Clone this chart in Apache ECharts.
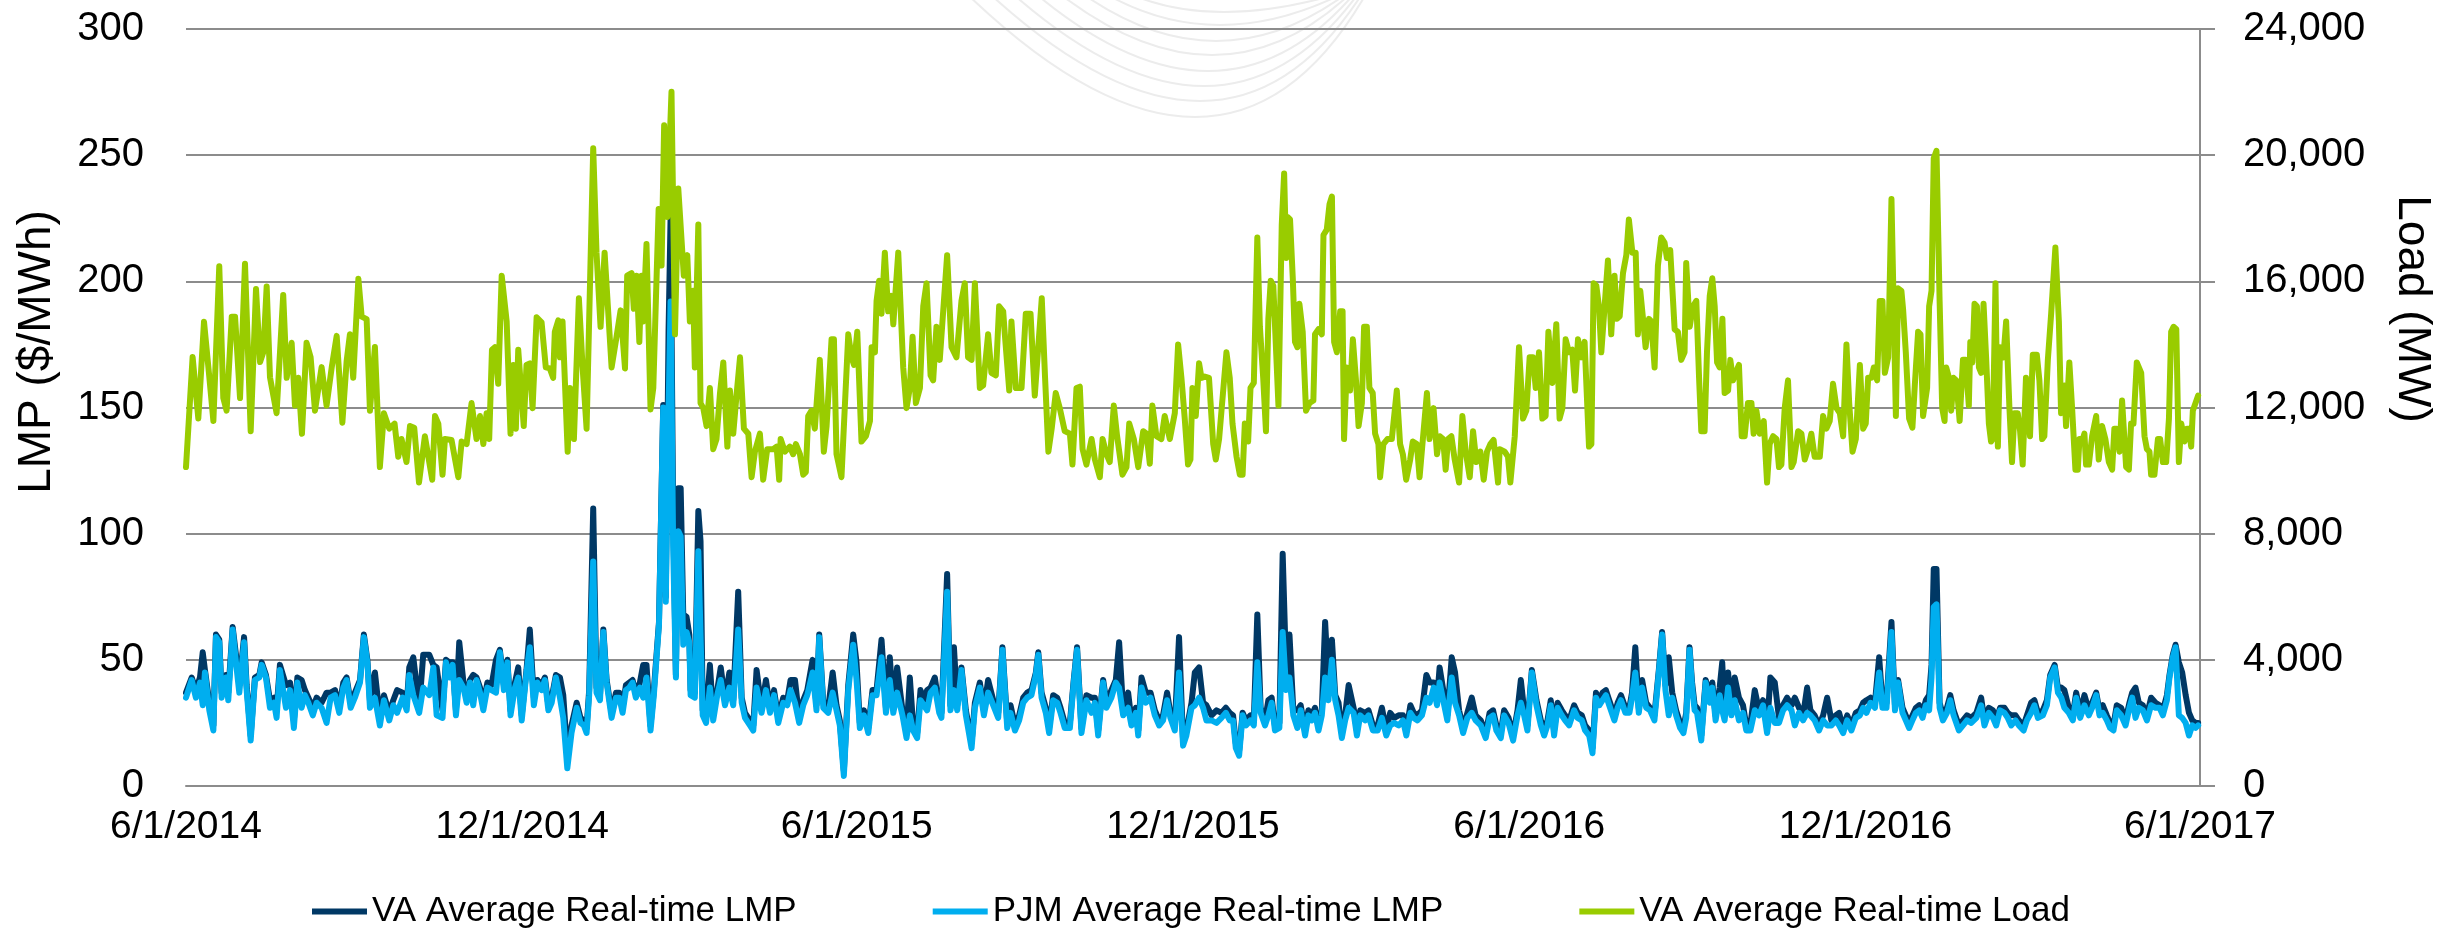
<!DOCTYPE html>
<html>
<head>
<meta charset="utf-8">
<title>VA vs PJM real-time LMP and load</title>
<script src="https://cdn.jsdelivr.net/npm/echarts@6/dist/echarts.min.js"></script>
<style>
  html, body { margin: 0; padding: 0; background: #fff; }
  #chart { width: 2463px; height: 943px; }
</style>
</head>
<body>
<div id="chart"></div>
<script>
// x axis: days since 6/1/2014
var tickDays = [0, 183, 365, 548, 731, 914, 1096];
var tickLabels = ['6/1/2014', '12/1/2014', '6/1/2015', '12/1/2015', '6/1/2016', '12/1/2016', '6/1/2017'];

// LMP series ($/MWh)
var lmpDays = [
  0, 3.1, 5.4, 7.6, 9.1, 10.3, 12.7, 14.9, 16.3, 18.1,
  19.4, 21.8, 23.0, 25.4, 27.2, 29.0, 31.6, 33.0, 35.2, 37.5,
  39.9, 41.2, 43.5, 45.7, 47.9, 49.3, 51.1, 54.4, 56.6, 58.7,
  60.6, 62.9, 64.7, 66.6, 69.0, 71.1, 73.8, 76.5, 78.7, 81.1,
  83.4, 85.6, 87.4, 89.6, 91.9, 94.7, 96.8, 98.7, 100.1, 102.8,
  105.5, 107.7, 110.6, 112.8, 114.9, 117.9, 120.1, 121.5, 123.7, 126.9,
  129.1, 132.4, 134.6, 136.4, 139.6, 141.5, 143.3, 145.1, 146.9, 148.7,
  151.0, 152.7, 154.5, 156.3, 158.1, 160.0, 161.8, 164.0, 166.3, 168.7,
  170.8, 173.0, 174.9, 176.6, 179.0, 180.8, 182.7, 185.3, 187.1, 189.3,
  191.2, 193.5, 195.3, 197.2, 199.0, 201.3, 203.5, 205.3, 207.5, 209.8,
  212.6, 214.7, 216.5, 218.0, 219.4, 221.6, 223.4, 225.3, 227.1, 228.9,
  231.6, 234.0, 235.8, 237.6, 239.4, 241.2, 243.0, 244.8, 247.0, 248.8,
  250.6, 252.8, 254.6, 257.4, 259.7, 261.1, 262.6, 263.7, 265.1, 266.6,
  267.9, 269.2, 270.6, 272.4, 273.9, 274.6, 276.9, 278.8, 280.0, 281.2,
  283.0, 285.1, 286.9, 289.1, 291.0, 293.3, 295.7, 297.8, 300.5, 302.4,
  304.2, 306.9, 308.7, 310.5, 313.2, 315.6, 317.8, 320.0, 322.3, 325.0,
  327.2, 329.0, 331.4, 333.7, 335.9, 338.1, 341.0, 343.1, 344.6, 346.8,
  349.5, 351.9, 354.0, 355.8, 358.0, 360.4, 363.1, 364.9, 366.7, 368.9,
  371.3, 373.6, 375.8, 378.5, 380.9, 383.0, 384.9, 387.0, 389.9, 392.1,
  393.9, 395.7, 397.9, 399.7, 401.5, 403.3, 405.2, 407.5, 409.9, 411.1,
  414.2, 416.0, 417.9, 419.7, 422.0, 424.4, 427.5, 429.3, 432.0, 434.2,
  436.5, 439.3, 442.0, 444.3, 446.9, 448.7, 451.1, 453.4, 455.6, 457.8,
  460.1, 462.5, 463.8, 465.6, 467.9, 469.7, 471.9, 474.1, 475.9, 478.2,
  481.0, 483.1, 484.9, 487.3, 490.0, 492.8, 494.6, 496.4, 499.1, 500.9,
  503.6, 506.0, 507.8, 510.0, 512.7, 514.5, 516.9, 518.2, 520.0, 522.3,
  524.9, 527.2, 529.6, 531.7, 533.9, 535.7, 538.1, 540.4, 542.6, 544.4,
  547.2, 549.0, 551.3, 553.5, 555.3, 558.1, 560.8, 563.5, 565.9, 568.0,
  569.8, 571.3, 573.1, 575.0, 576.8, 579.3, 581.1, 583.0, 584.8, 587.2,
  589.0, 590.8, 592.6, 595.0, 596.8, 598.7, 600.5, 602.6, 604.8, 606.6,
  609.0, 610.8, 612.6, 614.4, 616.3, 618.1, 619.9, 621.7, 623.6, 625.4,
  627.2, 629.0, 630.8, 632.7, 635.4, 637.2, 639.0, 641.7, 643.5, 645.9,
  648.5, 650.8, 653.2, 655.3, 657.5, 659.9, 662.3, 664.1, 666.3, 668.1,
  670.2, 672.6, 675.0, 676.8, 679.0, 680.8, 682.2, 686.4, 688.8, 690.6,
  692.8, 695.0, 697.3, 699.7, 701.8, 704.6, 707.3, 709.4, 711.3, 713.1,
  715.5, 717.3, 719.7, 722.2, 724.6, 726.4, 728.2, 730.0, 732.4, 734.9,
  737.3, 739.1, 740.9, 742.7, 744.5, 746.4, 748.7, 750.5, 752.7, 755.4,
  757.3, 759.6, 761.4, 763.6, 765.4, 767.3, 769.1, 770.9, 772.7, 774.5,
  777.3, 779.1, 780.9, 783.3, 785.5, 786.9, 788.7, 790.6, 792.4, 794.6,
  796.7, 799.1, 801.5, 803.3, 805.1, 806.9, 808.8, 810.9, 813.1, 814.9,
  816.4, 818.2, 819.6, 821.0, 822.3, 824.6, 827.0, 829.2, 830.6, 832.4,
  834.6, 836.0, 837.3, 839.2, 841.0, 842.8, 845.1, 847.3, 849.1, 851.3,
  853.7, 856.0, 858.2, 860.4, 862.2, 864.6, 866.9, 869.1, 871.3, 873.7,
  875.5, 877.8, 880.0, 882.2, 884.0, 886.3, 888.7, 890.9, 893.1, 895.4,
  897.8, 899.6, 901.8, 904.0, 906.3, 908.7, 910.9, 912.7, 914.5, 916.7,
  919.1, 921.4, 923.2, 925.4, 928.1, 930.0, 931.7, 934.1, 935.9, 937.7,
  939.5, 941.4, 943.2, 945.0, 946.8, 948.6, 949.9, 951.1, 952.6, 954.3,
  956.1, 958.3, 960.1, 961.9, 964.8, 967.0, 969.2, 971.5, 974.3, 976.9,
  978.7, 981.1, 983.3, 985.1, 987.2, 989.6, 991.4, 993.3, 995.6, 997.4,
  1000.0, 1001.8, 1004.1, 1005.9, 1007.8, 1010.5, 1012.7, 1014.5, 1016.9, 1018.7,
  1020.5, 1022.2, 1024.6, 1026.8, 1028.6, 1030.8, 1033.1, 1035.5, 1037.3, 1039.5,
  1041.3, 1043.1, 1045.3, 1047.1, 1048.9, 1050.7, 1053.1, 1055.5, 1057.6, 1059.1,
  1060.9, 1062.7, 1064.9, 1067.1, 1069.4, 1071.8, 1074.0, 1075.8, 1078.0, 1079.4,
  1081.2, 1082.7, 1084.5, 1086.3, 1088.2, 1090.0, 1091.8, 1093.6, 1095
];
var vaLmp = [
  37, 43, 38, 43, 53, 46, 33, 24, 60, 58,
  37, 44, 37, 63, 52, 40, 59, 40, 20, 43,
  44, 49, 44, 34, 35, 30, 48, 40, 41, 26,
  43, 42, 38, 35, 31, 35, 33, 37, 37, 38,
  31, 41, 43, 33, 37, 42, 60, 50, 34, 45,
  27, 36, 29, 34, 38, 37, 32, 47, 51, 31,
  52, 52, 48, 47, 30, 50, 49, 49, 30, 57,
  41, 35, 42, 44, 43, 39, 32, 41, 40, 50,
  54, 40, 50, 30, 41, 47, 28, 46, 62, 35,
  42, 40, 43, 32, 35, 44, 43, 36, 12, 24,
  33, 27, 26, 23, 38, 110, 39, 36, 62, 42,
  29, 37, 37, 31, 40, 41, 42, 37, 41, 48,
  48, 24, 38, 65, 151, 75, 180, 225, 110, 44,
  118, 118, 68, 67, 60, 38, 37, 109, 97, 30,
  28, 48, 28, 38, 47, 34, 45, 34, 77, 35,
  29, 26, 24, 46, 31, 42, 31, 38, 27, 35,
  34, 42, 42, 27, 34, 38, 50, 32, 60, 33,
  31, 45, 32, 26, 6, 40, 60, 49, 25, 30,
  23, 38, 38, 58, 31, 51, 31, 47, 30, 21,
  43, 24, 21, 38, 34, 38, 39, 43, 31, 29,
  84, 32, 55, 32, 47, 30, 17, 33, 41, 30,
  42, 34, 29, 55, 25, 32, 24, 28, 35, 37,
  38, 45, 53, 37, 31, 23, 36, 35, 31, 25,
  25, 42, 55, 23, 36, 35, 35, 22, 42, 33,
  38, 42, 57, 30, 37, 26, 31, 22, 43, 37,
  37, 30, 26, 28, 37, 29, 24, 59, 18, 22,
  33, 45, 47, 33, 32, 28, 30, 29, 31, 29,
  28, 17, 14, 29, 26, 28, 26, 68, 31, 26,
  34, 35, 24, 25, 92, 45, 60, 30, 30, 32,
  22, 30, 28, 31, 24, 30, 65, 40, 58, 36,
  33, 21, 28, 40, 31, 22, 30, 29, 30, 24,
  24, 31, 22, 29, 27, 28, 28, 22, 32, 29,
  28, 30, 44, 41, 41, 34, 47, 28, 51, 45,
  30, 23, 29, 35, 28, 26, 21, 29, 30, 24,
  21, 30, 27, 20, 30, 42, 30, 24, 46, 34,
  26, 22, 26, 34, 22, 33, 30, 28, 26, 32,
  29, 28, 24, 22, 15, 37, 34, 37, 38, 34,
  28, 33, 36, 31, 31, 37, 55, 31, 42, 33,
  31, 28, 46, 61, 40, 51, 37, 30, 25, 23,
  29, 55, 41, 32, 31, 20, 42, 35, 41, 28,
  39, 49, 28, 45, 30, 43, 35, 32, 24, 24,
  38, 30, 34, 23, 43, 41, 27, 32, 35, 32,
  35, 31, 28, 39, 30, 28, 24, 28, 35, 26,
  28, 29, 23, 28, 24, 29, 30, 33, 34, 35,
  33, 51, 33, 33, 65, 32, 42, 31, 28, 25,
  28, 31, 32, 29, 34, 36, 48, 86, 86, 33,
  28, 31, 36, 30, 24, 26, 28, 27, 29, 35,
  26, 31, 30, 26, 31, 31, 29, 28, 28, 26,
  24, 28, 33, 34, 29, 30, 34, 44, 48, 39,
  39, 38, 31, 28, 37, 29, 36, 30, 33, 37,
  30, 32, 28, 25, 24, 32, 31, 26, 33, 37,
  39, 33, 32, 28, 35, 33, 32, 30, 36, 44,
  52, 56, 49, 45, 36, 29, 26, 25, 25
];
var pjmLmp = [
  35, 42, 35, 41, 32, 45, 30, 22, 59, 57,
  35, 43, 34, 62, 49, 37, 57, 38, 18, 42,
  43, 48, 43, 31, 33, 27, 46, 31, 38, 23,
  41, 31, 36, 33, 28, 33, 31, 25, 35, 36,
  29, 39, 42, 31, 35, 41, 59, 49, 31, 35,
  24, 34, 26, 32, 29, 35, 30, 44, 36, 29,
  39, 36, 47, 28, 27, 49, 43, 48, 28, 42,
  39, 33, 41, 32, 42, 37, 30, 39, 38, 37,
  53, 38, 49, 28, 39, 43, 26, 45, 55, 32,
  41, 38, 42, 30, 33, 43, 35, 27, 7, 21,
  31, 25, 24, 21, 36, 89, 37, 34, 61, 41,
  27, 35, 35, 29, 38, 39, 41, 35, 39, 35,
  43, 22, 36, 64, 150, 73, 148, 192, 95, 43,
  101, 99, 56, 61, 57, 36, 35, 93, 60, 28,
  25, 39, 26, 36, 42, 32, 39, 32, 62, 33,
  27, 24, 22, 39, 29, 38, 29, 36, 25, 33,
  32, 38, 33, 25, 32, 36, 45, 30, 59, 31,
  29, 37, 30, 24, 4, 38, 56, 42, 23, 28,
  21, 36, 36, 51, 29, 42, 29, 37, 28, 19,
  28, 22, 19, 34, 32, 30, 37, 39, 29, 27,
  77, 30, 38, 30, 46, 28, 15, 31, 39, 28,
  37, 32, 27, 54, 23, 29, 22, 26, 33, 35,
  36, 44, 52, 35, 29, 21, 34, 33, 29, 23,
  23, 41, 54, 21, 34, 29, 33, 20, 41, 31,
  35, 41, 39, 28, 31, 24, 29, 20, 39, 33,
  35, 28, 24, 26, 34, 27, 22, 45, 16, 20,
  31, 32, 35, 31, 26, 26, 25, 27, 29, 26,
  26, 15, 12, 28, 24, 26, 24, 49, 29, 24,
  28, 33, 22, 23, 61, 38, 43, 28, 23, 30,
  20, 28, 26, 29, 22, 28, 43, 34, 50, 34,
  28, 19, 26, 31, 29, 20, 28, 26, 28, 22,
  22, 27, 20, 24, 25, 24, 26, 20, 29, 27,
  26, 28, 35, 33, 39, 32, 41, 26, 43, 33,
  28, 21, 27, 29, 26, 24, 19, 27, 28, 22,
  19, 28, 25, 18, 28, 33, 28, 22, 45, 32,
  24, 20, 24, 32, 20, 31, 28, 26, 24, 30,
  27, 26, 22, 20, 13, 35, 32, 34, 36, 32,
  26, 31, 34, 29, 29, 35, 45, 29, 39, 31,
  30, 26, 45, 60, 38, 28, 35, 28, 23, 21,
  27, 54, 39, 30, 29, 18, 41, 33, 39, 26,
  36, 30, 26, 39, 28, 34, 26, 29, 22, 22,
  30, 28, 32, 21, 31, 25, 25, 30, 32, 30,
  24, 29, 26, 29, 28, 26, 22, 26, 24, 24,
  26, 24, 21, 26, 22, 27, 28, 31, 29, 33,
  31, 45, 31, 31, 61, 30, 41, 29, 26, 23,
  26, 29, 30, 27, 32, 30, 43, 71, 72, 31,
  26, 29, 34, 28, 22, 24, 26, 25, 27, 32,
  24, 29, 27, 24, 30, 29, 27, 24, 26, 24,
  22, 26, 29, 32, 27, 28, 32, 43, 47, 37,
  35, 31, 29, 26, 35, 27, 32, 28, 31, 36,
  28, 29, 26, 23, 22, 30, 28, 24, 31, 35,
  27, 31, 30, 26, 32, 31, 31, 28, 34, 43,
  51, 55, 28, 27, 25, 20, 24, 23, 24
];

// VA load (MW)
var loadDays = [
  0, 3.6, 6.7, 9.8, 12.7, 14.9, 18.1, 20.3, 22.1, 24.9,
  26.7, 29.4, 32.1, 35.2, 38.1, 40.3, 42.1, 43.9, 45.7, 49.3,
  52.9, 54.8, 57.5, 59.3, 61.1, 63.1, 65.6, 67.8, 70.2, 73.8,
  76.5, 79.3, 82.0, 85.1, 87.4, 89.2, 91.0, 93.8, 95.6, 98.3,
  100.1, 102.8, 105.5, 107.7, 110.6, 113.5, 115.5, 117.3, 120.0, 121.9,
  124.2, 126.8, 130.0, 134.0, 135.5, 137.3, 139.6, 140.9, 144.5, 148.2,
  150.0, 152.7, 155.4, 158.1, 160.0, 161.8, 163.6, 165.0, 166.5, 168.1,
  169.9, 171.8, 174.5, 176.6, 178.1, 179.5, 180.8, 183.8, 185.3, 187.1,
  188.6, 190.8, 193.5, 195.8, 198.0, 199.8, 200.7, 202.6, 203.5, 204.9,
  207.7, 208.9, 211.1, 213.8, 215.8, 218.0, 221.6, 223.4, 225.6, 227.8,
  231.6, 234.3, 236.5, 238.9, 240.1, 242.5, 243.7, 245.2, 246.7, 247.9,
  248.8, 250.6, 252.8, 254.3, 255.7, 257.2, 258.8, 260.2, 261.9, 263.0,
  264.2, 266.1, 267.9, 270.9, 272.8, 274.2, 276.0, 276.9, 278.8, 280.0,
  281.5, 283.3, 285.1, 286.9, 288.7, 290.6, 292.4, 294.6, 296.0, 297.8,
  299.7, 301.5, 303.6, 306.0, 307.8, 309.6, 312.3, 314.1, 316.3, 319.5,
  321.4, 322.8, 323.6, 325.9, 328.6, 330.4, 331.9, 334.1, 335.9, 337.3,
  338.6, 340.4, 342.2, 344.9, 347.1, 348.6, 351.3, 352.6, 354.0, 356.7,
  360.4, 362.2, 363.5, 365.3, 367.6, 370.0, 372.2, 373.1, 374.9, 375.8,
  377.2, 378.5, 380.3, 382.1, 383.9, 384.9, 387.6, 390.3, 392.1, 393.9,
  395.4, 397.2, 399.4, 401.2, 403.0, 405.2, 406.6, 408.4, 410.2, 414.2,
  416.6, 419.3, 422.0, 423.8, 425.6, 427.5, 429.3, 432.0, 433.8, 436.5,
  438.3, 440.7, 442.5, 444.7, 445.6, 448.0, 449.2, 451.6, 454.7, 457.0,
  459.6, 461.9, 465.7, 467.5, 469.3, 471.1, 473.3, 475.5, 478.2, 481.0,
  482.4, 484.6, 486.4, 487.9, 490.0, 492.8, 494.6, 497.3, 498.8, 500.9,
  502.7, 504.9, 506.7, 509.6, 511.8, 513.3, 515.8, 518.2, 520.9, 522.7,
  524.5, 525.9, 528.1, 530.8, 532.6, 535.4, 538.1, 539.9, 541.7, 543.5,
  545.3, 546.6, 547.7, 549.5, 551.3, 552.6, 554.4, 556.7, 559.0, 560.4,
  562.2, 563.5, 566.2, 568.0, 569.5, 571.7, 573.5, 575.0, 576.2, 578.0,
  579.3, 581.1, 583.0, 584.4, 586.2, 587.7, 589.0, 590.3, 591.7, 594.5,
  596.3, 597.6, 598.7, 599.4, 600.8, 602.3, 603.5, 604.8, 605.9, 607.7,
  609.5, 611.4, 613.5, 614.4, 616.3, 618.1, 619.0, 620.8, 622.3, 623.6,
  624.8, 626.3, 628.1, 629.4, 630.2, 631.7, 633.5, 635.0, 636.8, 638.1,
  639.9, 641.1, 642.6, 644.0, 645.8, 647.1, 648.9, 649.8, 651.6, 653.8,
  656.2, 658.9, 660.7, 662.2, 664.0, 666.2, 667.6, 669.8, 671.3, 673.1,
  675.3, 676.7, 678.9, 680.8, 682.3, 684.1, 685.5, 686.8, 688.6, 690.4,
  692.8, 694.6, 696.4, 698.6, 700.4, 702.2, 704.4, 706.2, 708.0, 709.8,
  711.6, 714.0, 714.9, 717.6, 719.4, 720.7, 723.1, 725.4, 727.6, 729.4,
  731.2, 733.0, 734.5, 736.3, 738.1, 739.9, 741.4, 743.6, 745.7, 747.5,
  749.0, 750.8, 752.6, 754.4, 755.9, 757.5, 759.3, 761.1, 763.5, 764.8,
  766.0, 767.5, 768.9, 770.2, 772.0, 773.8, 775.6, 777.4, 778.7, 780.2,
  782.0, 783.8, 785.2, 787.1, 788.9, 790.1, 791.4, 792.9, 794.3, 796.1,
  797.4, 799.2, 801.0, 802.8, 804.6, 805.9, 807.7, 810.1, 811.9, 813.7,
  815.5, 816.4, 818.3, 820.1, 821.9, 823.4, 824.6, 826.4, 827.7, 829.2,
  830.6, 831.9, 833.2, 834.6, 836.1, 837.3, 839.2, 840.4, 841.9, 843.3,
  845.1, 846.6, 848.2, 850.0, 851.9, 853.1, 854.6, 856.4, 858.6, 860.4,
  861.8, 863.7, 865.5, 866.9, 868.2, 870.0, 871.8, 873.7, 874.9, 877.3,
  879.1, 880.9, 882.7, 884.5, 886.3, 889.1, 890.9, 892.7, 894.5, 896.3,
  898.2, 900.0, 901.8, 903.6, 905.1, 906.9, 908.7, 910.9, 912.7, 914.1,
  915.4, 917.2, 918.5, 920.3, 921.7, 923.2, 924.5, 926.3, 928.1, 930.5,
  931.7, 933.5, 934.4, 935.9, 937.7, 939.5, 940.8, 942.6, 943.9, 945.3,
  947.5, 948.6, 949.9, 951.1, 952.6, 954.3, 955.7, 957.0, 957.9, 959.4,
  960.6, 961.9, 963.4, 965.2, 967.0, 968.4, 970.2, 971.0, 972.1, 973.3,
  974.6, 975.7, 976.9, 978.2, 979.6, 981.1, 982.3, 983.2, 984.7, 986.0,
  987.2, 989.0, 990.5, 992.3, 993.7, 995.0, 996.8, 998.1, 999.5, 1001.3,
  1003.5, 1005.0, 1007.2, 1008.6, 1010.1, 1011.3, 1013.2, 1015.0, 1017.3, 1019.2,
  1020.4, 1022.2, 1023.1, 1024.9, 1026.4, 1028.2, 1029.5, 1030.4, 1032.2, 1033.1,
  1034.0, 1035.5, 1037.3, 1039.5, 1040.9, 1042.7, 1044.5, 1046.4, 1048.2, 1049.4,
  1050.7, 1052.2, 1053.6, 1055.8, 1057.3, 1058.5, 1059.8, 1061.6, 1064.0, 1065.8,
  1067.1, 1068.5, 1069.4, 1071.2, 1073.1, 1074.3, 1075.8, 1077.6, 1079.1, 1080.3,
  1081.6, 1083.1, 1084.5, 1085.8, 1087.6, 1088.9, 1090.0, 1091.2, 1092.1, 1095.0
];
var vaLoad = [
  10110, 13600, 11650, 14720, 12960, 11570, 16480, 12300, 11900, 14880,
  14880, 12300, 16560, 11250, 15760, 13440, 13760, 15840, 12960, 11820,
  15570, 12940, 14050, 12060, 12940, 11170, 14050, 13600, 11900, 13280,
  12060, 13270, 14270, 11520, 13460, 14320, 12940, 16080, 14880, 14800,
  11900, 13920, 10110, 11820, 11330, 11490, 10440, 11000, 10270, 11410,
  11360, 9620, 11090, 9710, 11730, 11490, 9870, 11000, 10970, 9790,
  10920, 10840, 12140, 11000, 11730, 10840, 11820, 11000, 13830, 13910,
  12750, 16180, 14730, 11170, 13350, 11330, 13830, 11410, 13350, 13400,
  11980, 14860, 14700, 13270, 13240, 12940, 14400, 14760, 13590, 14730,
  10600, 12620, 11000, 15460, 13300, 11330, 20220, 16910, 14560, 16910,
  13270, 14240, 15080, 13240, 16180, 16260, 15130, 16180, 14080, 16180,
  14730, 17180, 11940, 12620, 15380, 18290, 16500, 20950, 18040, 20060,
  22010, 14320, 18940, 16180, 16830, 14730, 15700, 13270, 17800, 12140,
  11980, 11410, 12620, 10680, 11000, 12460, 13430, 10760, 12540, 11170,
  12460, 13590, 11330, 11170, 9790, 10600, 11170, 9710, 10680, 10680,
  10760, 9710, 11000, 10600, 10760, 10520, 10840, 10520, 9870, 9950,
  11730, 11900, 11330, 13510, 10600, 11410, 14160, 14160, 10520, 9790,
  14320, 13590, 13350, 14400, 10920, 11090, 11570, 13910, 13750, 15380,
  16020, 14970, 16910, 15050, 15540, 14640, 16910, 13270, 11980, 12620,
  14240, 12140, 12620, 15210, 15940, 13020, 12860, 14560, 13510, 16830,
  13910, 13590, 15380, 15940, 13590, 13510, 15940, 12620, 12700, 14320,
  13100, 13020, 15210, 15050, 14320, 12540, 14730, 12620, 12620, 14970,
  14970, 12380, 15460, 12940, 10600, 11330, 12460, 11980, 11250, 11170,
  10190, 12620, 12660, 10680, 10190, 11000, 10350, 9790, 11000, 10520,
  10270, 12060, 11090, 9870, 10110, 11490, 11000, 10110, 11250, 11170,
  10220, 12060, 11090, 11000, 11730, 11000, 11820, 14000, 12940, 11650,
  10190, 10350, 12620, 11730, 13400, 12940, 12980, 12940, 10840, 10350,
  11000, 11900, 13750, 12940, 11490, 10440, 9870, 9870, 11490, 10920,
  12620, 12780, 17390, 14560, 12940, 11250, 14810, 16020, 15860, 12060,
  17800, 19420, 16740, 18040, 17960, 16100, 14080, 13910, 15290, 14400,
  11900, 12140, 12220, 14320, 14480, 14320, 17470, 17640, 18450, 18690,
  14080, 13750, 15050, 15050, 11000, 13270, 12540, 14160, 12780, 11410,
  12140, 14560, 14560, 12620, 12460, 11170, 10840, 9790, 10840, 11000,
  11000, 12540, 10840, 10520, 9710, 10350, 10920, 10840, 9790, 11000,
  12460, 11000, 11980, 10520, 11090, 11000, 10030, 11000, 11090, 10350,
  9620, 11730, 10600, 9790, 11250, 10270, 10600, 9710, 10600, 10840,
  10970, 9620, 10680, 10600, 10440, 9620, 11090, 13910, 11650, 11900,
  13590, 13590, 12620, 13750, 11650, 11730, 14400, 12780, 14640, 11650,
  11980, 14160, 13750, 13830, 12540, 14160, 13590, 14080, 10760, 10840,
  15940, 15860, 15210, 13750, 15210, 16660, 14320, 16180, 14810, 14890,
  16260, 16830, 17960, 16910, 16910, 14320, 15700, 14810, 13910, 14810,
  14730, 13270, 16500, 17390, 17230, 16740, 16990, 14480, 14400, 13510,
  13750, 16580, 14560, 15210, 15380, 12940, 11250, 11250, 13750, 15540,
  16100, 15210, 13430, 13270, 14810, 12460, 12540, 13510, 12860, 13100,
  13350, 11090, 11090, 12140, 12140, 11170, 11900, 11170, 11570, 9620,
  10840, 11090, 11000, 10110, 10190, 11980, 12860, 10110, 10270, 11250,
  11170, 10350, 10680, 11170, 10440, 10440, 11730, 11330, 11570, 12750,
  11980, 11820, 11090, 14000, 12140, 10600, 11000, 13350, 11330, 11490,
  12940, 12940, 13270, 12860, 15380, 15380, 13100, 13590, 18610, 11730,
  15780, 15700, 15130, 13750, 11650, 11360, 12700, 14400, 14320, 11730,
  12620, 15210, 15700, 19900, 20140, 15380, 11980, 11570, 13270, 12940,
  11900, 12940, 12860, 11570, 13510, 13510, 12060, 14080, 13430, 15290,
  15210, 13270, 13100, 15290, 13590, 11490, 10920, 11000, 15940, 10760,
  13910, 13590, 14730, 11980, 10270, 11820, 11820, 11250, 10190, 12940,
  11090, 13670, 13670, 12860, 11000, 11090, 13510, 14970, 17070, 14730,
  11820, 12700, 11410, 13430, 11980, 10030, 10030, 11000, 11000, 11170,
  10190, 10190, 11090, 11730, 10350, 11410, 11000, 10270, 10030, 11330,
  11330, 10600, 12220, 10110, 10030, 11490, 11490, 13430, 13100, 11090,
  10680, 10600, 9870, 9870, 11000, 11000, 10270, 10270, 11650, 14400,
  14560, 14480, 10270, 11490, 10920, 11330, 11330, 10760, 11900, 12380
];

var seriesNames = ['VA Average Real-time LMP', 'PJM Average Real-time LMP', 'VA Average Real-time Load'];
var seriesColors = ['#003865', '#00AEEF', '#99CC00'];

var FONT = "'Liberation Sans', Arial, sans-serif";
var GRID_GRAY = '#8c8c8c';

function pairs(xs, ys) {
  return xs.map(function (x, i) { return [x, ys[i]]; });
}

function lineSeries(idx, data, yAxisIndex) {
  return {
    name: seriesNames[idx],
    type: 'line',
    yAxisIndex: yAxisIndex,
    data: data,
    showSymbol: false,
    symbol: 'none',
    color: seriesColors[idx],
    lineStyle: { width: 6, color: seriesColors[idx], cap: 'round', join: 'round' },
    emphasis: { disabled: true },
    z: 2 + idx
  };
}

// faint watermark arcs behind the plot
function watermark() {
  var arcs = [
    [967, 1366, 117, 1195], [990, 1362, 101, 1200], [1013, 1358, 86, 1204], [1036, 1354, 71, 1208],
    [1060, 1350, 55, 1212], [1083, 1346, 41, 1216], [1106, 1342, 25, 1220], [1130, 1338, 12, 1224]
  ];
  return arcs.map(function (a) {
    var top = -6;
    var cpy = 2 * a[2] - top;
    var cpx = 2 * a[3] - (a[0] + a[1]) / 2;
    return {
      type: 'bezierCurve',
      silent: true,
      z: -10,
      shape: { x1: a[0], y1: top, x2: a[1], y2: top, cpx1: cpx, cpy1: cpy },
      style: { stroke: '#ececec', lineWidth: 2, fill: null }
    };
  });
}

var myChart = echarts.init(document.getElementById('chart'), null, { renderer: 'canvas' });

var option = {
  animation: false,
  backgroundColor: '#ffffff',
  textStyle: { fontFamily: FONT },
  grid: { left: 186, right: 263, top: 29, bottom: 157, outerBoundsMode: 'none' },
  legend: {
    data: seriesNames,
    left: 307,
    top: 889,
    icon: 'rect',
    itemWidth: 55,
    itemHeight: 6,
    itemGap: 136,
    textStyle: { fontFamily: FONT, fontSize: 35, color: '#000' }
  },
  xAxis: {
    type: 'value',
    min: 0,
    max: 1096,
    axisLine: { show: true, lineStyle: { color: GRID_GRAY, width: 2 } },
    axisTick: { show: false },
    splitLine: { show: false },
    axisLabel: {
      customValues: tickDays,
      margin: 22,
      fontFamily: FONT,
      fontSize: 39,
      color: '#000',
      formatter: function (v) {
        var i = tickDays.indexOf(v);
        return i >= 0 ? tickLabels[i] : '';
      }
    }
  },
  yAxis: [
    {
      type: 'value',
      min: 0,
      max: 300,
      interval: 50,
      axisLine: { show: false },
      axisTick: { show: false },
      splitLine: { show: true, lineStyle: { color: GRID_GRAY, width: 2 } },
      axisLabel: { margin: 42, fontFamily: FONT, fontSize: 40, color: '#000' }
    },
    {
      type: 'value',
      position: 'right',
      min: 0,
      max: 24000,
      interval: 4000,
      axisLine: { show: true, lineStyle: { color: GRID_GRAY, width: 2 } },
      axisTick: { show: true, inside: false, length: 15, lineStyle: { color: GRID_GRAY, width: 2 } },
      splitLine: { show: false },
      axisLabel: {
        margin: 43,
        fontFamily: FONT,
        fontSize: 40,
        color: '#000',
        formatter: function (v) { return v.toLocaleString('en-US'); }
      }
    }
  ],
  graphic: watermark().concat([
    {
      type: 'text',
      x: 37,
      y: 352,
      rotation: Math.PI / 2,
      style: {
        text: 'LMP ($/MWh)',
        fontFamily: FONT,
        fontSize: 46,
        fill: '#000',
        align: 'center',
        verticalAlign: 'middle'
      }
    },
    {
      type: 'text',
      x: 2412,
      y: 309,
      rotation: -Math.PI / 2,
      style: {
        text: 'Load (MW)',
        fontFamily: FONT,
        fontSize: 46,
        fill: '#000',
        align: 'center',
        verticalAlign: 'middle'
      }
    }
  ]),
  series: [
    lineSeries(0, pairs(lmpDays, vaLmp), 0),
    lineSeries(1, pairs(lmpDays, pjmLmp), 0),
    lineSeries(2, pairs(loadDays, vaLoad), 1)
  ]
};

myChart.setOption(option);
</script>
</body>
</html>
